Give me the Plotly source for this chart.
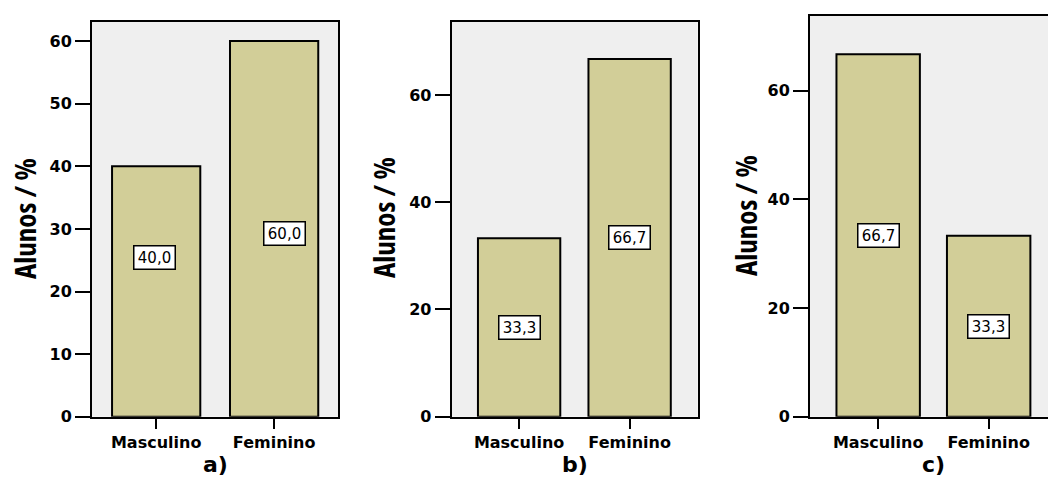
import plotly.graph_objects as go

# ---------------- data ----------------
categories = ["Masculino", "Feminino"]
a_values = [40.0, 60.0]
b_values = [33.3, 66.7]
c_values = [66.7, 33.3]
panel_titles = ["a)", "b)", "c)"]
a_ticks = [0, 10, 20, 30, 40, 50, 60]
bc_ticks = [0, 20, 40, 60]
y_title = "Alunos / %"

# ---------------- layout config ----------------
W, H = 1048, 477
BAR_FILL = "#D2CE98"
PLOT_BG = "#EFEFEF"
TICK_FONT = dict(family="DejaVu Sans", size=16, color="black", weight="bold")
XTICK_FONT = dict(family="DejaVu Sans", size=16, color="black", weight="bold")
LABEL_FONT = dict(family="DejaVu Sans", size=15, color="black")
YTITLE_FONT = dict(family="Open Sans, Liberation Sans, sans-serif",
                   size=29, color="black", weight="bold")
PTITLE_FONT = dict(family="DejaVu Sans", size=22, color="black", weight="bold")


def px_x(v):
    return v / W


def px_y(v):
    return 1 - v / H


panels = [
    dict(values=a_values, ticks=a_ticks, xdom=[px_x(92), px_x(338.3)], ydom=[px_y(416.7), px_y(21.7)],
         xrange=[-0.544, 1.544], yrange=[0, 63.1], width=0.748, mirror_y=True,
         label_at=[25.5, 29.3], label_dx=[-0.015, 0.085],
         ytitle=(24, 219), ptitle=(215, 464)),
    dict(values=b_values, ticks=bc_ticks, xdom=[px_x(451.7), px_x(697.7)], ydom=[px_y(416.7), px_y(21.7)],
         xrange=[-0.610, 1.616], yrange=[0, 73.67], width=0.745, mirror_y=True,
         label_at=None, label_dx=[0, 0],
         ytitle=(383, 218), ptitle=(575, 464)),
    dict(values=c_values, ticks=bc_ticks, xdom=[px_x(810), 1.0], ydom=[px_y(416.7), px_y(16)],
         xrange=[-0.617, 1.537], yrange=[0, 73.75], width=0.755, mirror_y=False,
         label_at=None, label_dx=[0, 0],
         ytitle=(745, 216), ptitle=(933, 464)),
]

fig = go.Figure()
annotations = []
layout_axes = {}

for i, p in enumerate(panels):
    n = "" if i == 0 else str(i + 1)
    xa, ya = "x" + n, "y" + n
    fig.add_trace(go.Bar(
        x=[0, 1], y=p["values"], xaxis=xa, yaxis=ya, width=p["width"],
        marker=dict(color=BAR_FILL, line=dict(color="black", width=2)),
        showlegend=False, hoverinfo="skip",
    ))
    layout_axes["xaxis" + n] = dict(
        domain=p["xdom"], anchor=ya, range=p["xrange"], automargin=False,
        tickmode="array", tickvals=[0, 1], ticktext=categories,
        showline=True, linecolor="black", linewidth=2, mirror=True,
        ticks="outside", ticklen=10, tickwidth=2, tickcolor="black",
        tickfont=XTICK_FONT, showgrid=False, zeroline=False, fixedrange=True,
    )
    layout_axes["yaxis" + n] = dict(
        domain=p["ydom"], anchor=xa, range=p["yrange"], automargin=False,
        tickmode="array", tickvals=p["ticks"],
        showline=True, linecolor="black", linewidth=2, mirror=p["mirror_y"],
        ticks="outside", ticklen=15, tickwidth=2, tickcolor="black",
        tickfont=TICK_FONT, showgrid=False, zeroline=False, fixedrange=True,
    )
    for j, v in enumerate(p["values"]):
        yy = p["label_at"][j] if p["label_at"] else v / 2
        annotations.append(dict(
            x=j + p["label_dx"][j], y=yy, xref=xa, yref=ya,
            text=f"{v:.1f}".replace(".", ","), showarrow=False,
            font=LABEL_FONT, bgcolor="white", bordercolor="black",
            borderwidth=1.5, borderpad=2, width=36, align="center",
        ))
    tx, ty = p["ytitle"]
    annotations.append(dict(
        x=px_x(tx), y=px_y(ty), xref="paper", yref="paper",
        text=f'<span style="font-stretch:75%">{y_title}</span>',
        textangle=-90, showarrow=False, font=YTITLE_FONT,
        xanchor="center", yanchor="middle",
    ))
    px_, py_ = p["ptitle"]
    annotations.append(dict(
        x=px_x(px_), y=px_y(py_), xref="paper", yref="paper", text=panel_titles[i],
        showarrow=False, font=PTITLE_FONT, xanchor="center", yanchor="middle",
    ))

fig.update_layout(
    width=W, height=H,
    margin=dict(l=0, r=0, t=0, b=0, autoexpand=False),
    paper_bgcolor="white", plot_bgcolor=PLOT_BG,
    annotations=annotations,
    **layout_axes,
)

fig.write_html("out.html", config={"displayModeBar": False})
